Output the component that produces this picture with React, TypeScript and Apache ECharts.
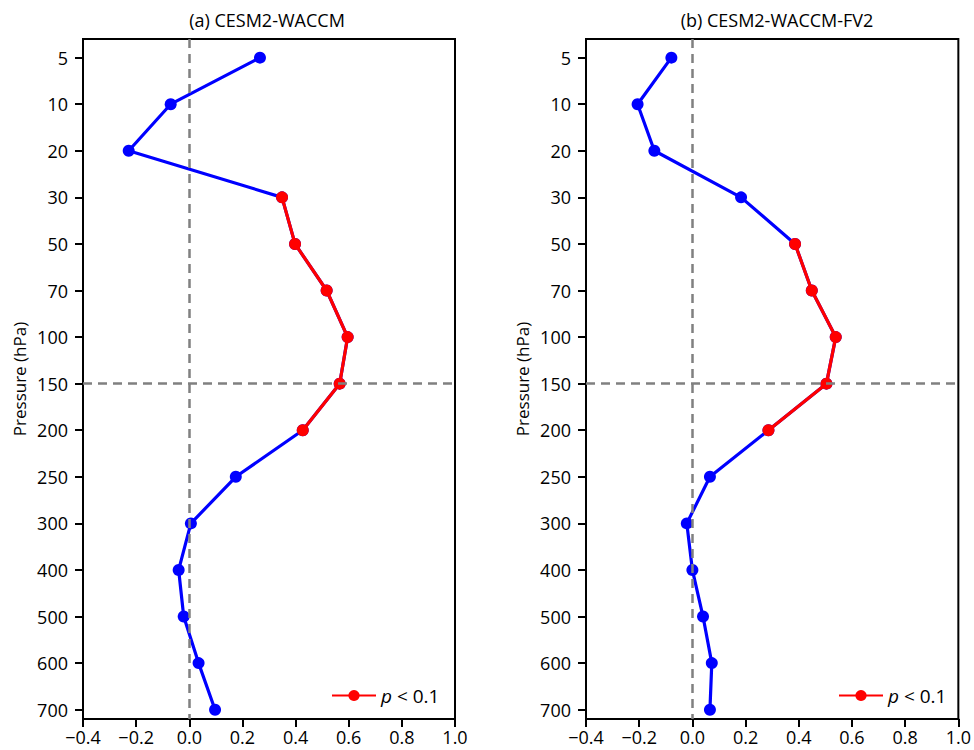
import React, { useEffect, useRef } from "react";
import * as echarts from "echarts";

const levels = ["5", "10", "20", "30", "50", "70", "100", "150", "200", "250", "300", "400", "500", "600", "700"];
const titleA = "(a) CESM2-WACCM";
const titleB = "(b) CESM2-WACCM-FV2";
const valuesA = [0.266, -0.07, -0.228, 0.349, 0.398, 0.517, 0.596, 0.566, 0.427, 0.175, 0.006, -0.04, -0.021, 0.035, 0.097];
const sigA = [false, false, false, true, true, true, true, true, true, false, false, false, false, false, false];
const valuesB = [-0.079, -0.206, -0.143, 0.183, 0.386, 0.449, 0.539, 0.504, 0.286, 0.066, -0.021, 0.0, 0.04, 0.073, 0.066];
const sigB = [false, false, false, false, true, true, true, true, true, false, false, false, false, false, false];
const xTicks = [-0.4, -0.2, 0.0, 0.2, 0.4, 0.6, 0.8, 1.0];
const sigName = "p < 0.1";

const FONT = "Open Sans";
const BLUE = "#0000ff";
const RED = "#ff0000";

export default function App() {
  const ref = useRef<HTMLDivElement>(null);
  useEffect(() => {
    if (!ref.current) return;
    const chart = echarts.init(ref.current, null, { renderer: "svg" });
    const idx = levels.map((_, i) => i);

    const grids = [
      { left: 83, top: 39, width: 372, height: 680 },
      { left: 586, top: 39, width: 373, height: 680 },
    ];

    const xAxis = [0, 1].map((g) => ({
      type: "value",
      gridIndex: g,
      min: xTicks[0],
      max: xTicks[xTicks.length - 1],
      interval: 0.2,
      axisLine: { show: true, onZero: false, lineStyle: { color: "#000", width: 2 } },
      axisTick: { show: true, inside: false, length: 8, lineStyle: { color: "#000", width: 2 } },
      axisLabel: {
        fontSize: 18,
        fontFamily: FONT,
        color: "#000",
        margin: 9,
        formatter: (v: number) => v.toFixed(1).replace("-", "\u2212"),
      },
      splitLine: { show: false },
    }));

    const yAxis = [0, 1].map((g) => ({
      type: "value",
      gridIndex: g,
      inverse: true,
      min: -0.4,
      max: 14.2,
      axisLine: { show: true, onZero: false, lineStyle: { color: "#000", width: 2 } },
      axisTick: { show: true, inside: false, length: 8, customValues: idx, lineStyle: { color: "#000", width: 2 } },
      axisLabel: {
        customValues: idx,
        fontSize: 18,
        fontFamily: FONT,
        color: "#000",
        margin: 15,
        formatter: (v: number) => levels[Math.round(v)] ?? "",
      },
      splitLine: { show: false },
      name: "Pressure (hPa)",
      nameLocation: "middle",
      nameRotate: 90,
      nameGap: 55,
      nameTextStyle: { fontSize: 17, fontFamily: FONT, color: "#000" },
    }));

    const mkSeries = (g: number, vals: number[], sig: boolean[]) => [
      {
        type: "line",
        name: "ref" + g,
        xAxisIndex: g,
        yAxisIndex: g,
        data: [],
        z: 1,
        silent: true,
        markLine: {
          silent: true,
          symbol: "none",
          label: { show: false },
          lineStyle: { color: "#808080", width: 2.5, type: [9, 6] },
          data: [{ xAxis: 0 }, { yAxis: 7 }],
        },
      },
      {
        type: "line",
        name: "all" + g,
        xAxisIndex: g,
        yAxisIndex: g,
        z: 2,
        data: vals.map((v, i) => [v, i]),
        symbol: "circle",
        symbolSize: 12,
        showSymbol: true,
        lineStyle: { color: BLUE, width: 3.2 },
        itemStyle: { color: BLUE },
      },
      {
        type: "line",
        name: sigName,
        xAxisIndex: g,
        yAxisIndex: g,
        z: 3,
        connectNulls: false,
        data: vals.map((v, i) => (sig[i] ? [v, i] : ["-", i])),
        symbol: "circle",
        symbolSize: 12,
        showSymbol: true,
        lineStyle: { color: RED, width: 3.2 },
        itemStyle: { color: RED },
      },
    ];

    const legendBase = {
      data: [sigName],
      itemWidth: 44,
      itemHeight: 14,
      itemGap: 8,
      selectedMode: false,
      formatter: () => "{i|p} < 0.1",
      textStyle: {
        fontSize: 19,
        fontFamily: FONT,
        color: "#000",
        rich: { i: { fontStyle: "italic", fontSize: 19, fontFamily: FONT, color: "#000" } },
      },
    };

    chart.setOption({
      animation: false,
      backgroundColor: "#fff",
      title: [
        {
          text: titleA,
          left: 262,
          top: 6,
          textAlign: "center",
          textStyle: { fontSize: 18, fontWeight: "normal", fontFamily: FONT, color: "#000" },
        },
        {
          text: titleB,
          left: 772,
          top: 6,
          textAlign: "center",
          textStyle: { fontSize: 18, fontWeight: "normal", fontFamily: FONT, color: "#000" },
        },
      ],
      legend: [
        { ...legendBase, left: 326, top: 681 },
        { ...legendBase, left: 833, top: 681 },
      ],
      grid: grids.map((g) => ({ ...g, show: true, borderColor: "#000", borderWidth: 2, backgroundColor: "transparent" })),
      xAxis,
      yAxis,
      series: [...mkSeries(0, valuesA, sigA), ...mkSeries(1, valuesB, sigB)],
    });
    return () => chart.dispose();
  }, []);
  return <div ref={ref} style={{ width: 974, height: 750, position: "absolute", left: 0, top: 0 }} />;
}
